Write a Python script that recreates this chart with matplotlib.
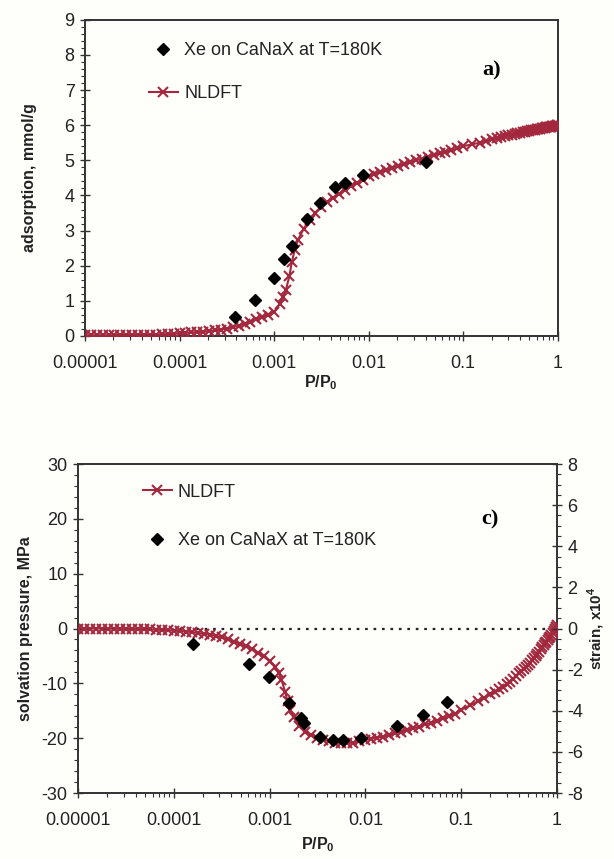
import numpy as np
import matplotlib
matplotlib.use('Agg')
import matplotlib.pyplot as plt
from matplotlib.ticker import MultipleLocator, LogLocator, NullFormatter
from matplotlib.lines import Line2D

plt.rcParams['font.family'] = ['Liberation Sans', 'DejaVu Sans']
plt.rcParams['mathtext.fontset'] = 'custom'
plt.rcParams['mathtext.rm'] = 'Liberation Sans'
plt.rcParams['mathtext.bf'] = 'Liberation Sans:bold'
plt.rcParams['axes.unicode_minus'] = False

# NLDFT grid P/P0 (shared by both panels)
nldft_p = [1.0e-5, 1.15e-5, 1.33e-5, 1.54e-5, 1.78e-5, 2.05e-5, 2.37e-5, 2.74e-5,
           3.16e-5, 3.65e-5, 4.22e-5, 4.87e-5, 5.62e-5, 6.49e-5, 7.5e-5, 8.66e-5,
           1.0e-4, 1.15e-4, 1.33e-4, 1.54e-4, 1.78e-4, 2.05e-4, 2.37e-4, 2.74e-4,
           3.16e-4, 3.65e-4, 4.22e-4, 4.87e-4, 5.62e-4, 6.49e-4, 7.5e-4, 8.66e-4,
           1.0e-3, 1.15e-3, 1.25e-3, 1.33e-3, 1.45e-3, 1.54e-3, 1.65e-3, 1.78e-3,
           2.05e-3, 2.37e-3, 2.74e-3, 3.16e-3, 3.65e-3, 4.22e-3, 4.87e-3, 5.62e-3,
           6.49e-3, 7.5e-3, 8.66e-3,
           1.0e-2, 1.15e-2, 1.33e-2, 1.54e-2, 1.78e-2, 2.05e-2, 2.37e-2, 2.74e-2,
           3.16e-2, 3.65e-2, 4.22e-2, 4.87e-2, 5.62e-2, 6.49e-2, 7.5e-2, 8.66e-2,
           0.1, 0.125, 0.15, 0.175, 0.2, 0.225, 0.25, 0.275, 0.3, 0.325, 0.35,
           0.375, 0.4, 0.425, 0.45, 0.475, 0.5, 0.525, 0.55, 0.575, 0.6, 0.625,
           0.65, 0.675, 0.7, 0.725, 0.75, 0.775, 0.8, 0.825, 0.85, 0.875, 0.9,
           0.925, 0.95, 0.975, 1.0]

# panel a) adsorption, mmol/g
nldft_ads = [0.02, 0.02, 0.02, 0.02, 0.02, 0.02, 0.03, 0.03, 0.03, 0.03, 0.04, 0.04, 0.04, 0.05, 0.05, 0.06,
             0.08, 0.09, 0.10, 0.11, 0.12, 0.14, 0.16, 0.18, 0.21, 0.25, 0.29, 0.35, 0.41, 0.48, 0.54, 0.61,
             0.68, 0.92, 1.12, 1.30, 1.70, 2.10, 2.45, 2.72, 3.05, 3.30, 3.50, 3.66, 3.80, 3.93, 4.05, 4.16,
             4.26, 4.36, 4.45,
             4.55, 4.61, 4.67, 4.73, 4.79, 4.84, 4.89, 4.95, 5.00, 5.05, 5.10, 5.15, 5.20, 5.24, 5.29, 5.34,
             5.40, 5.46, 5.50, 5.55, 5.60, 5.63, 5.66, 5.69, 5.71, 5.73, 5.75, 5.77, 5.79, 5.80, 5.82, 5.83,
             5.84, 5.85, 5.86, 5.87, 5.88, 5.89, 5.90, 5.91, 5.92, 5.93, 5.94, 5.94, 5.95, 5.96, 5.96, 5.97,
             5.98, 5.98, 5.99, 6.00, 6.00]

exp_p_a = [3.84e-4, 6.35e-4, 9.9e-4, 1.28e-3, 1.55e-3, 2.25e-3, 3.04e-3, 4.36e-3, 5.65e-3, 8.65e-3, 0.0403]
exp_ads = [0.54, 1.03, 1.64, 2.20, 2.55, 3.32, 3.78, 4.23, 4.35, 4.58, 4.94]

# panel c) solvation pressure, MPa
nldft_pres = [0.0, 0.0, 0.0, 0.0, 0.0, 0.0, -0.05, -0.05, -0.05, -0.1, -0.1, -0.1, -0.15, -0.2, -0.25, -0.3,
              -0.4, -0.45, -0.55, -0.65, -0.8, -0.95, -1.1, -1.35, -1.6, -1.95, -2.4, -2.8, -3.2, -3.8, -4.4, -5.1,
              -5.9, -7.0, -8.1, -9.3, -11.5, -13.2, -14.8, -16.2, -17.8, -18.8, -19.5, -19.9, -20.3, -20.6, -20.8,
              -20.9, -20.9, -20.8, -20.6,
              -20.3, -20.1, -19.9, -19.7, -19.4, -19.1, -18.8, -18.5, -18.2, -17.9, -17.5, -17.2, -16.8, -16.4,
              -16.0, -15.5,
              -14.8, -14.0, -13.3, -12.6, -12.0, -11.5, -11.0, -10.6, -10.2, -9.7, -9.2, -8.7, -8.2, -7.8, -7.4,
              -7.0, -6.6, -6.2, -5.8, -5.4, -5.0, -4.6, -4.2, -3.8, -3.4, -3.0, -2.7, -2.4, -2.1, -1.8, -1.5,
              -1.2, -0.9, -0.5, -0.1, 0.3, 0.7]

exp_p_c = [1.57e-4, 6.03e-4, 9.93e-4, 1.60e-3, 2.11e-3, 2.30e-3, 3.35e-3, 4.57e-3, 5.89e-3, 8.99e-3,
           0.0214, 0.0399, 0.0715]
exp_pres = [-2.9, -6.4, -8.9, -13.6, -16.4, -17.2, -19.7, -20.4, -20.4, -19.9, -17.8, -15.8, -13.4]

xticks = [1e-5, 1e-4, 1e-3, 1e-2, 1e-1, 1]
xticklabels = ['0.00001', '0.0001', '0.001', '0.01', '0.1', '1']

red = '#a3283e'
spine_c = '#333333'
txt_c = '#222222'
bg = '#fefefb'

fig = plt.figure(figsize=(6.14, 8.59), dpi=100, facecolor=bg)
ax1 = fig.add_axes([0.1384, 0.6089, 0.770, 0.368], facecolor=bg)
ax3 = fig.add_axes([0.127, 0.0768, 0.780, 0.383], facecolor=bg)


def style_axis(ax, xlabelpad):
    ax.set_xscale('log')
    ax.set_xlim(1e-5, 1)
    ax.set_xticks(xticks)
    ax.set_xticklabels(xticklabels)
    ax.xaxis.set_minor_locator(LogLocator(base=10, subs=np.arange(2, 10)))
    ax.xaxis.set_minor_formatter(NullFormatter())
    for s in ax.spines.values():
        s.set_color(spine_c)
        s.set_linewidth(1.4)
    ax.tick_params(which='major', direction='inout', length=7, width=1, colors=spine_c,
                   labelsize=13, labelcolor=txt_c, pad=4)
    ax.tick_params(axis='x', which='major', pad=10)
    ax.tick_params(which='minor', direction='out', length=3, width=0.8, colors=spine_c)
    ax.set_xlabel(r'P/P$_\mathbf{0}$', fontsize=11.5, fontweight='bold', color=txt_c,
                  labelpad=xlabelpad)


nl_style = dict(color=red, lw=1.5, marker='x', ms=6.5, mew=1.5)
exp_style = dict(ls='none', marker='D', ms=6.5, color='black')

# ---- panel a)
style_axis(ax1, 1)
ax1.plot(nldft_p, nldft_ads, zorder=3, **nl_style)
ax1.plot(exp_p_a, exp_ads, zorder=4, **exp_style)
ax1.set_ylim(0, 9)
ax1.yaxis.set_major_locator(MultipleLocator(1))
ax1.yaxis.set_minor_locator(MultipleLocator(0.2))
ax1.set_ylabel('adsorption, mmol/g', fontsize=11.5, fontweight='bold', color=txt_c, labelpad=20)
ax1.text(0.86, 0.84, 'a)', transform=ax1.transAxes, fontsize=16, fontweight='bold',
         family='Liberation Serif', ha='center', va='center')

h_exp = Line2D([], [], **exp_style)
h_nl = Line2D([], [], **nl_style)
ax1.legend([h_exp, h_nl], ['Xe on CaNaX at T=180K', 'NLDFT'], loc='upper left',
           bbox_to_anchor=(0.135, 0.93), frameon=False, fontsize=13, numpoints=1,
           handlelength=1.6, handletextpad=0.35, labelspacing=1.45, borderpad=0, borderaxespad=0,
           labelcolor=txt_c)

# ---- panel c)
style_axis(ax3, 5)
ax3.axhline(0, color=txt_c, lw=1.6, ls=(0, (1.2, 2.6)), zorder=2)
ax3.plot(nldft_p, nldft_pres, zorder=3, **nl_style)
ax3.plot(exp_p_c, exp_pres, zorder=4, **exp_style)
ax3.set_ylim(-30, 30)
ax3.yaxis.set_major_locator(MultipleLocator(10))
ax3.yaxis.set_minor_locator(MultipleLocator(2))
ax3.set_ylabel('solvation pressure, MPa', fontsize=11.5, fontweight='bold', color=txt_c, labelpad=6)
ax3.text(0.86, 0.83, 'c)', transform=ax3.transAxes, fontsize=16, fontweight='bold',
         family='Liberation Serif', ha='center', va='center')
ax3.legend([h_nl, h_exp], ['NLDFT', 'Xe on CaNaX at T=180K'], loc='upper left',
           bbox_to_anchor=(0.135, 0.94), frameon=False, fontsize=13, numpoints=1,
           handlelength=1.6, handletextpad=0.35, labelspacing=1.75, borderpad=0, borderaxespad=0,
           labelcolor=txt_c)

ax4 = ax3.twinx()
ax4.set_ylim(-8, 8)
ax4.yaxis.set_major_locator(MultipleLocator(2))
ax4.yaxis.set_minor_locator(MultipleLocator(0.5))
ax4.tick_params(which='major', direction='inout', length=7, width=1, colors=spine_c,
                labelsize=13, labelcolor=txt_c, pad=4)
ax4.tick_params(which='minor', direction='out', length=3, width=0.8, colors=spine_c)
ax4.set_ylabel(r'strain, x10$^\mathbf{4}$', fontsize=11, fontweight='bold', color=txt_c, labelpad=2)
for s in ax4.spines.values():
    s.set_visible(False)

fig.savefig('out.png', dpi=100, facecolor=bg)
